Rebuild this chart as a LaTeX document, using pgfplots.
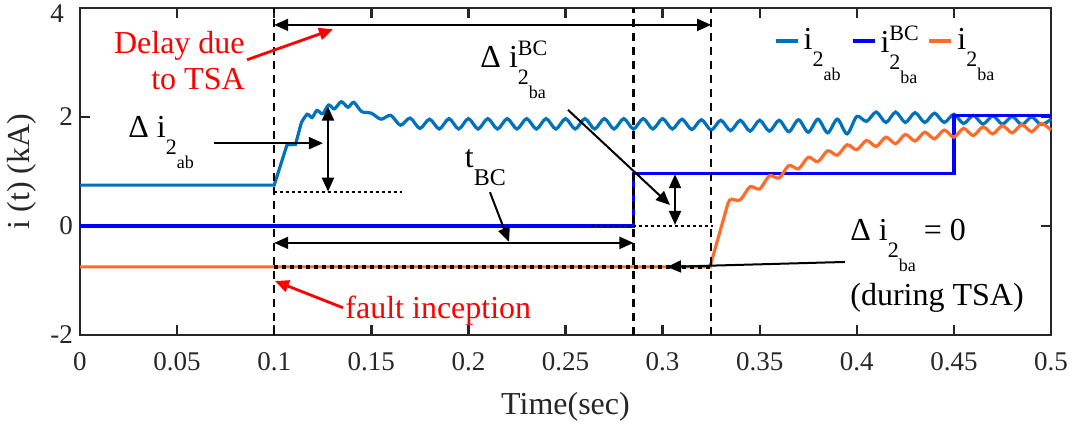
\documentclass[border=0pt]{standalone}
\usepackage{fontspec}
\setmainfont{Liberation Serif}
\usepackage{pgfplots}
\pgfplotsset{compat=1.18}
\usetikzlibrary{arrows.meta}
\definecolor{cab}{RGB}{0,114,189}
\definecolor{cbc}{RGB}{0,0,255}
\definecolor{cor}{RGB}{255,107,43}
\definecolor{axgray}{RGB}{38,38,38}
\newcommand{\sbs}[2]{\raisebox{-8.5pt}{\fontsize{11}{11}\selectfont #1\raisebox{-7pt}{\fontsize{9}{9}\selectfont #2}}}
\newcommand{\annf}{\fontsize{16}{18}\selectfont}
\tikzset{arr/.style={line width=1pt, -{Triangle[length=7pt,width=6pt]}},
  darr/.style={line width=1pt, {Triangle[length=7pt,width=6pt]}-{Triangle[length=7pt,width=6pt]}}}
\begin{document}
\begin{tikzpicture}
\begin{axis}[name=ax, scale only axis, width=485.5pt, height=163.5pt,
  xmin=0, xmax=0.5, ymin=-2, ymax=4, clip=false,
  xtick={0,0.05,0.1,0.15,0.2,0.25,0.3,0.35,0.4,0.45,0.5},
  xticklabels={0,0.05,0.1,0.15,0.2,0.25,0.3,0.35,0.4,0.45,0.5},
  ytick={-2,0,2,4}, yticklabels={-2,0,2,{}},
  tick label style={font=\fontsize{13.5}{15}\selectfont, text=axgray},
  xticklabel style={yshift=-5pt},
  axis line style={line width=1.2pt, draw=axgray},
  tick style={line width=1.2pt, draw=axgray},
  major tick length=5pt,
  xlabel={Time(sec)}, ylabel={i (t) (kA)},
  label style={font=\fontsize{16}{18}\selectfont, text=axgray},
  xlabel style={at={(axis description cs:0.5,-0.2202)}, anchor=center},
  ylabel style={at={(axis description cs:-0.0597,0.5)}, anchor=center},
  legend style={at={(axis cs:0.357,3.75)}, anchor=north west, draw=none, fill=none,
    font=\annf, legend columns=-1, inner sep=0pt,
    /tikz/every even column/.append style={column sep=3pt}},
  legend image code/.code={\draw[#1, line width=2pt] (0,0) -- (11pt,0);},
]
% i_2ab
\addplot[cab, line width=1.6pt] coordinates {(0,0.75)(0.1,0.75)(0.1066,1.49)(0.111,1.50)(0.114,1.90)};
\addlegendentry{i\sbs{2}{ab}}
\addplot[cab, line width=1.6pt, smooth, forget plot] coordinates {
(0.114,1.90)(0.117,2.05)(0.1195,1.99)(0.122,2.12)(0.125,2.06)(0.128,2.22)(0.131,2.15)
(0.1345,2.28)(0.138,2.18)(0.141,2.27)(0.145,2.10)(0.15,2.07)(0.155,1.96)(0.16,2.03)
(0.165,1.85)(0.17,1.98)(0.175,1.79)(0.18,1.96)(0.185,1.78)
(0.19,1.97)(0.195,1.78)(0.2,1.97)(0.205,1.78)(0.21,1.97)(0.215,1.78)(0.22,1.97)(0.225,1.78)
(0.23,1.97)(0.235,1.78)(0.24,1.97)(0.245,1.78)(0.25,1.97)(0.255,1.78)(0.26,1.97)(0.265,1.78)
(0.27,1.97)(0.275,1.78)(0.28,1.97)(0.285,1.78)(0.29,1.97)(0.295,1.78)(0.3,1.97)(0.305,1.78)
(0.31,1.96)(0.315,1.77)(0.32,1.95)(0.325,1.76)(0.33,1.94)(0.335,1.75)(0.34,1.94)(0.345,1.74)
(0.35,1.94)(0.355,1.74)(0.36,1.94)(0.365,1.73)(0.37,1.95)(0.375,1.72)(0.38,1.96)(0.385,1.71)
(0.39,1.96)(0.395,1.69)(0.4,2.01)(0.405,1.92)(0.41,2.09)(0.415,1.90)(0.42,2.09)(0.425,1.90)
(0.43,2.08)(0.435,1.90)(0.44,2.07)(0.445,1.90)(0.45,2.05)(0.455,1.88)(0.46,2.03)(0.465,1.87)
(0.47,2.02)(0.475,1.87)(0.48,2.01)(0.485,1.86)(0.49,2.00)(0.495,1.86)(0.5,1.96)};
% i_2ba^BC
\addplot[cbc, line width=1.6pt] coordinates {(0,0)(0.285,0)(0.285,0.96)(0.45,0.96)(0.45,2.03)(0.5,2.03)};
\addlegendentry{i\rlap{\raisebox{6pt}{\fontsize{11}{11}\selectfont BC}}\sbs{2}{ba}}
% i_2ba
\addplot[cor, line width=1.6pt] coordinates {(0,-0.75)(0.3244,-0.75)(0.3337,0.42)(0.335,0.50)};
\addlegendentry{i\sbs{2}{ba}}
\addplot[cor, line width=1.6pt, smooth, forget plot] coordinates {
(0.335,0.50)(0.34,0.48)(0.345,0.72)(0.35,0.68)(0.355,0.92)(0.36,0.88)(0.365,1.11)(0.37,1.05)
(0.375,1.26)(0.38,1.18)(0.385,1.38)(0.39,1.30)(0.395,1.49)(0.4,1.40)(0.405,1.57)(0.41,1.46)
(0.415,1.63)(0.42,1.51)(0.425,1.68)(0.43,1.56)(0.435,1.72)(0.44,1.60)(0.445,1.76)(0.45,1.63)
(0.455,1.79)(0.46,1.66)(0.465,1.82)(0.47,1.69)(0.475,1.84)(0.48,1.71)(0.485,1.86)(0.49,1.73)
(0.495,1.88)(0.5,1.76)};
% dashed verticals
\draw[line width=1.3pt, dash pattern=on 4pt off 3pt] (axis cs:0.1,-2) -- (axis cs:0.1,4);
\draw[line width=1.3pt, dash pattern=on 4pt off 3pt] (axis cs:0.285,-2) -- (axis cs:0.285,4);
\draw[line width=1.3pt, dash pattern=on 4pt off 3pt] (axis cs:0.325,-2) -- (axis cs:0.325,4);
% dotted lines
\draw[line width=0.9pt, dash pattern=on 1.5pt off 1.5pt] (axis cs:0.1,0.63) -- (axis cs:0.166,0.63);
\draw[line width=0.9pt, dash pattern=on 1.5pt off 1.5pt] (axis cs:0.263,0) -- (axis cs:0.326,0);
\draw[line width=2pt, dash pattern=on 2pt off 2pt] (axis cs:0.1,-0.75) -- (axis cs:0.325,-0.75);
% arrows
\draw[darr] (axis cs:0.1,3.69) -- (axis cs:0.325,3.69);
\draw[arr] (axis cs:0.069,1.52) -- (axis cs:0.1251,1.52);
\draw[darr] (axis cs:0.1277,2.19) -- (axis cs:0.1277,0.63);
\draw[arr] (axis cs:0.2513,2.13) -- (axis cs:0.3038,0.385);
\draw[darr] (axis cs:0.3064,0.95) -- (axis cs:0.3064,0.02);
\draw[arr] (axis cs:0.2111,0.62) -- (axis cs:0.2209,-0.29);
\draw[darr] (axis cs:0.1,-0.31) -- (axis cs:0.285,-0.31);
\draw[arr] (axis cs:0.3939,-0.66) -- (axis cs:0.3023,-0.75);
\draw[red, line width=1.4pt, -{Triangle[length=7pt,width=6pt]}] (axis cs:0.086,3.05) -- (axis cs:0.1303,3.61);
\draw[red, line width=1.4pt, -{Triangle[length=7pt,width=6pt]}] (axis cs:0.1354,-1.50) -- (axis cs:0.1004,-1.01);
% texts
\node[anchor=east, font=\fontsize{13.5}{15}\selectfont, text=axgray, yshift=-2.8pt] at ([xshift=-4.5pt]axis cs:0,4) {4};
\node[anchor=base east, red, font=\annf, inner sep=0pt] at (axis cs:0.085,3.17) {Delay due};
\node[anchor=base east, red, font=\annf, inner sep=0pt] at (axis cs:0.085,2.50) {to TSA};
\node[anchor=base west, red, font=\annf, inner sep=0pt] at (axis cs:0.1365,-1.69) {fault inception};
\node[anchor=base west, font=\annf, inner sep=0pt] at (axis cs:0.0247,1.615) {Δ i\sbs{2}{ab}};
\node[anchor=base west, font=\annf, inner sep=0pt] at (axis cs:0.206,2.90) {Δ i\rlap{\raisebox{6pt}{\fontsize{11}{11}\selectfont BC}}\sbs{2}{ba}};
\node[anchor=base west, font=\annf, inner sep=0pt] at (axis cs:0.198,1.08) {t\raisebox{-9pt}{\fontsize{12}{12}\selectfont BC}};
\node[anchor=base west, font=\annf, inner sep=0pt] at (axis cs:0.3965,-0.257) {Δ i\sbs{2}{ba} = 0};
\node[anchor=base west, font=\annf, inner sep=0pt] at (axis cs:0.3965,-1.45) {(during TSA)};
\end{axis}
\pgfresetboundingbox
\path ([shift={(-40pt,-50.5pt)}]ax.south west) rectangle ([shift={(12.5pt,4pt)}]ax.north east);
\end{tikzpicture}
\end{document}
